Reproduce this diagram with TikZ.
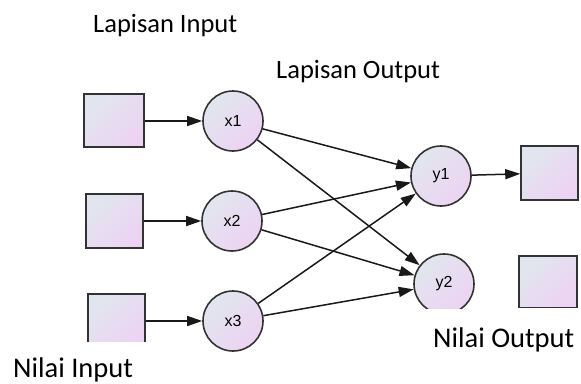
\documentclass[tikz,border=0pt]{standalone}
\usepackage{fontspec}
\setmainfont{Carlito}
\newfontfamily\nodefont{Liberation Sans}
\usetikzlibrary{arrows.meta}
\definecolor{bord}{HTML}{333333}
\definecolor{cA}{HTML}{E1E6EE}
\definecolor{cB}{HTML}{EDD3F3}
\tikzset{
  unitbox/.style={draw=bord, line width=1.6pt, inner sep=0pt, left color=cA, right color=cB, shading angle=45},
  neuron/.style={circle, draw=bord, line width=1.6pt, minimum size=60pt, inner sep=0pt,
    left color=cA, right color=cB, shading angle=45, font=\nodefont\fontsize{16}{16}\selectfont},
  conn/.style={-{Triangle[length=15pt,width=10pt]}, line width=1.5pt, black!90},
  lbl/.style={font=\fontsize{26.5}{30}\selectfont, anchor=base west, inner sep=0pt},
  lblb/.style={font=\fontsize{28.5}{30}\selectfont, anchor=base west, inner sep=0pt}
}
\begin{document}
\begin{tikzpicture}[x=1pt,y=-1pt]
\useasboundingbox (0,0) rectangle (581,383);
% input boxes
\node[unitbox, minimum width=60pt, minimum height=53pt] (s1) at (114,120.5) {};
\node[unitbox, minimum width=57pt, minimum height=54pt] (s2) at (114.5,221) {};
\begin{scope}
\clip (0,0) rectangle (581,341);
\node[unitbox, minimum width=57pt, minimum height=52pt] (s3) at (116.5,320) {};
\end{scope}
% hidden layer
\node[neuron] (x1) at (233,121) {x1};
\node[neuron] (x2) at (232,221) {x2};
\node[neuron] (x3) at (233,321) {x3};
% output layer
\node[neuron] (y1) at (441,176) {y1};
\begin{scope}
\clip (0,0) rectangle (581,308.5);
\node[neuron] (y2) at (444,284) {y2};
\end{scope}
% output boxes
\node[unitbox, minimum width=57pt, minimum height=54pt] (o1) at (549.5,173) {};
\node[unitbox, minimum width=58pt, minimum height=51.5pt] (o2) at (548,281.75) {};
% connectors
\draw[conn] (s1.east |- x1) -- (x1);
\draw[conn] (s2.east |- x2) -- (x2);
\draw[conn] (s3.east |- x3) -- (x3);
\draw[conn] (x1) -- (y1);
\draw[conn] (x1) -- (y2);
\draw[conn] (x2) -- (y1);
\draw[conn] (x2) -- (y2);
\draw[conn] (x3) -- (y1);
\draw[conn] (x3) -- (y2);
\draw[conn] (y1) -- (o1);
% labels
\node[lbl] (t1) at (93,32) {Lapisan Input};
\node[lbl] (t2) at (276,78) {Lapisan Output};
\node[lblb] (t3) at (433,347) {Nilai Output};
\node[lblb] (t4) at (13,377) {Nilai Input};
\end{tikzpicture}
\end{document}
